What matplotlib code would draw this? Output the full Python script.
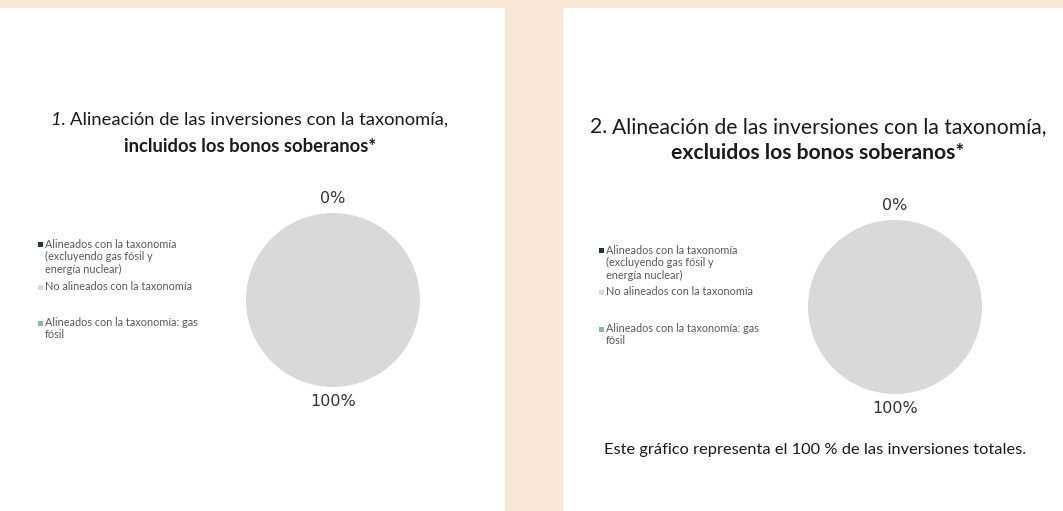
import matplotlib
matplotlib.use("Agg")
import matplotlib.pyplot as plt
import numpy as np
from matplotlib.patches import Rectangle

W, H = 1063, 511

# data
categories = [
    "Alineados con la taxonomía\n(excluyendo gas fósil y\nenergía nuclear)",
    "No alineados con la taxonomía",
    "Alineados con la taxonomía: gas\nfósil",
]
incl_sovereign = [0, 100, 0]
excl_sovereign = [0, 100, 0]
colors = ["#1d3a24", "#d9d9d9", "#8db89c"]

titles = [("1.", "Alineación de las inversiones con la taxonomía,",
           "incluidos los bonos soberanos*"),
          ("2.", "Alineación de las inversiones con la taxonomía,",
           "excluidos los bonos soberanos*")]
footnote = "Este gráfico representa el 100 % de las inversiones totales."

PEACH = "#fae7d6"
TXT = "#1a1a1a"
LEG = "#595959"
FONT = "Lato"


def fx(px):
    return px / W


def fy(py):
    return 1 - py / H


fig = plt.figure(figsize=(W / 100, H / 100), dpi=100, facecolor=PEACH)

# white panels
for x0, x1 in [(0, 505), (563, W)]:
    fig.patches.append(Rectangle((fx(x0), 0), fx(x1 - x0), fy(8),
                                 transform=fig.transFigure,
                                 facecolor="white", edgecolor="none", zorder=-5))

renderer = fig.canvas.get_renderer()


def title(cx, y1, y2, num, line1, line2, size, num_italic):
    t_num = fig.text(0, fy(y1), num + " ", fontsize=size, family=FONT,
                     style="italic" if num_italic else "normal", color=TXT,
                     ha="left", va="center")
    t_rest = fig.text(0, fy(y1), line1, fontsize=size, family=FONT,
                      color=TXT, ha="left", va="center")
    w1 = t_num.get_window_extent(renderer).width
    w2 = t_rest.get_window_extent(renderer).width
    left = cx - (w1 + w2) / 2
    t_num.set_x(fx(left))
    t_rest.set_x(fx(left + w1))
    fig.text(fx(cx), fy(y2), line2, fontsize=size, family=FONT,
             weight="bold", color=TXT, ha="center", va="center")


title(250, 120, 146, *titles[0], size=13.2, num_italic=True)
title(818, 127, 153, *titles[1], size=15.2, num_italic=False)


def legend(mx, ys):
    for (lab, col, y) in zip(categories, colors, ys):
        fig.patches.append(Rectangle((fx(mx), fy(y + 2.5)), fx(5), 5 / H,
                                     transform=fig.transFigure,
                                     facecolor=col, edgecolor="none"))
        fig.text(fx(mx + 7), fy(y - 6), lab, fontsize=7.8, family=FONT,
                 color=LEG, ha="left", va="top", linespacing=1.15)


legend(38, [245, 287, 323])
legend(599, [251, 292, 329])


def pie(cx, cy, values):
    r = 87
    size = r * 3
    ax = fig.add_axes([fx(cx - size / 2), fy(cy + size / 2), fx(size), size / H])
    wedges, _ = ax.pie(values, colors=colors, startangle=90, counterclock=False,
                       radius=1, wedgeprops=dict(linewidth=0))
    ax.set_xlim(-1.5, 1.5)
    ax.set_ylim(-1.5, 1.5)
    ax.set_aspect("equal")
    ax.axis("off")
    total = sum(values)
    seen = set()
    for w, v in zip(wedges, values):
        ang = np.deg2rad((w.theta1 + w.theta2) / 2)
        pos = (round(np.cos(ang), 3), round(np.sin(ang), 3))
        if pos in seen:
            continue
        seen.add(pos)
        ax.text(1.17 * np.cos(ang), 1.17 * np.sin(ang), f"{v / total * 100:.0f}%",
                ha="center", va="center", fontsize=11.5, color="#333333",
                family="DejaVu Sans")


pie(333, 300, incl_sovereign)
pie(895, 307, excl_sovereign)

fig.text(fx(815), fy(450), footnote, fontsize=11.8, family=FONT, color=TXT,
         ha="center", va="center")

fig.savefig("out.png", dpi=100, facecolor=PEACH)
